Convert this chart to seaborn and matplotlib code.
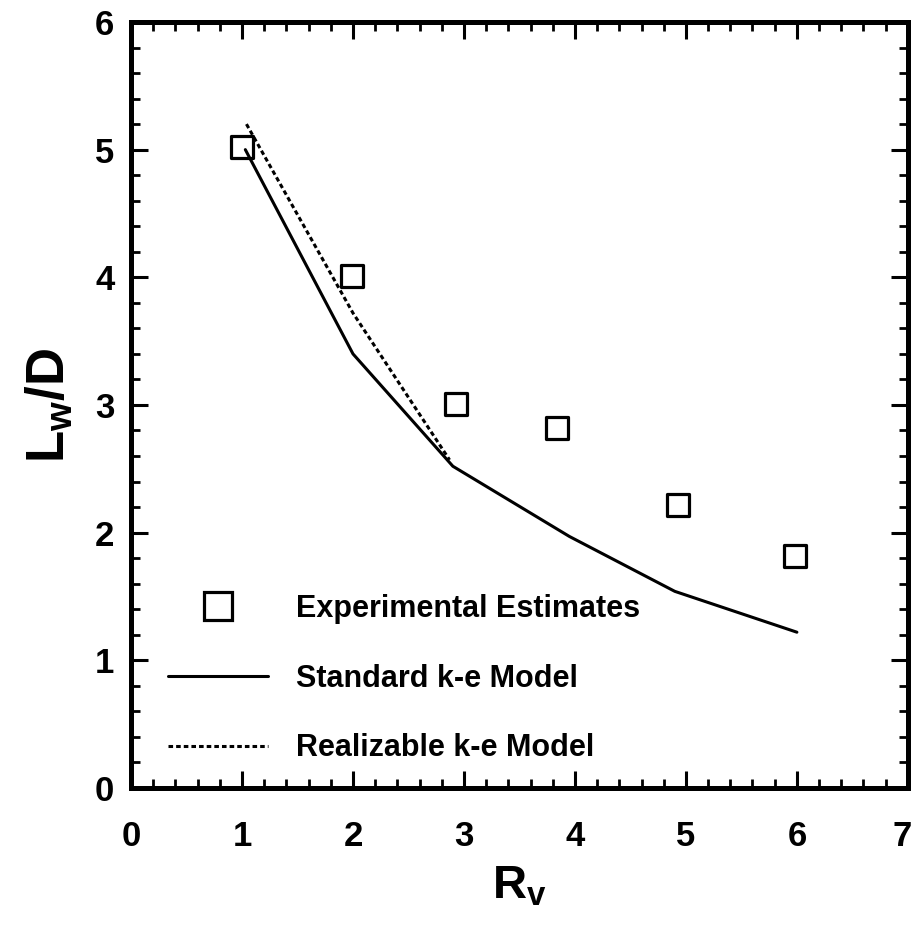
import matplotlib
matplotlib.use("Agg")
import matplotlib.pyplot as plt
import matplotlib.transforms as mtransforms
from matplotlib.lines import Line2D
from matplotlib.ticker import MultipleLocator
import seaborn as sns
import pandas as pd

# ---- data ----
exp_x = [1.00, 1.99, 2.93, 3.84, 4.93, 5.98]
exp_y = [5.02, 4.01, 3.01, 2.82, 2.22, 1.82]

std_x = [1.03, 2.00, 2.90, 3.95, 4.90, 6.00]
std_y = [5.00, 3.40, 2.52, 1.97, 1.54, 1.22]

real_x = [1.04, 2.00, 2.87]
real_y = [5.20, 3.72, 2.57]

legend_labels = ["Experimental Estimates", "Standard k-e Model", "Realizable k-e Model"]
x_ticks = [0, 1, 2, 3, 4, 5, 6, 7]
y_ticks = [0, 1, 2, 3, 4, 5, 6]

sns.set_theme(style="ticks")
plt.rcParams['font.family'] = ['Liberation Sans', 'DejaVu Sans']
plt.rcParams['font.weight'] = 'bold'
plt.rcParams['text.color'] = 'black'
plt.rcParams['axes.labelcolor'] = 'black'
plt.rcParams['xtick.color'] = 'black'
plt.rcParams['ytick.color'] = 'black'
plt.rcParams['mathtext.fontset'] = 'custom'
plt.rcParams['mathtext.rm'] = 'Liberation Sans:bold'
plt.rcParams['mathtext.bf'] = 'Liberation Sans:bold'
plt.rcParams['mathtext.it'] = 'Liberation Sans:bold'

fig = plt.figure(figsize=(9.15, 9.27), dpi=100)
ax = fig.add_axes([0.1432, 0.15, 0.849, 0.8263])

df_exp = pd.DataFrame({"x": exp_x, "y": exp_y})
df_std = pd.DataFrame({"x": std_x, "y": std_y})
df_real = pd.DataFrame({"x": real_x, "y": real_y})

sns.lineplot(data=df_std, x="x", y="y", ax=ax, color="black", lw=2.2,
             sort=False, estimator=None)
sns.lineplot(data=df_real, x="x", y="y", ax=ax, color="black", lw=2.2,
             sort=False, estimator=None, linestyle=(0, (1.5, 1.0)))
sns.scatterplot(data=df_exp, x="x", y="y", ax=ax, marker="s", s=250,
                facecolor="none", edgecolor="black", linewidth=2.3, zorder=5)

ax.set_xlim(0, 7)
ax.set_ylim(0, 6)
ax.set_xticks(x_ticks)
ax.set_yticks(y_ticks)
ax.set_xticklabels([str(t) for t in x_ticks])
ax.set_yticklabels([str(t) for t in y_ticks])
ax.xaxis.set_minor_locator(MultipleLocator(0.2))
ax.yaxis.set_minor_locator(MultipleLocator(0.2))
ax.tick_params(which="both", direction="in", top=True, right=True, color="black")
ax.tick_params(which="major", length=12, width=2.2, labelsize=25)
ax.tick_params(which="minor", length=6.5, width=2.0)
ax.tick_params(axis="x", which="major", pad=23)
ax.tick_params(axis="y", which="major", pad=12)
for lab in ax.get_xticklabels() + ax.get_yticklabels():
    lab.set_fontweight("bold")
# keep the last x tick label inside the canvas
last = ax.get_xticklabels()[-1]
last.set_transform(last.get_transform() +
                   mtransforms.ScaledTranslation(-6 / 100, 0, fig.dpi_scale_trans))
for sp in ax.spines.values():
    sp.set_linewidth(3.6)
    sp.set_color("black")

ax.set_xlabel(r"$\mathbf{R_v}$", fontsize=34, labelpad=8)
ax.set_ylabel(r"$\mathbf{L_w/D}$", fontsize=38, labelpad=14)

handles = [
    Line2D([], [], marker="s", linestyle="none", markersize=20, markerfacecolor="none",
           markeredgecolor="black", markeredgewidth=2.3),
    Line2D([], [], color="black", lw=2.2),
    Line2D([], [], color="black", lw=2.2, linestyle=(0, (1.5, 1.0))),
]
leg = ax.legend(handles, legend_labels, loc="lower left", bbox_to_anchor=(0.047, 0.032),
                frameon=False, fontsize=22, handlelength=3.3, handletextpad=0.9,
                labelspacing=1.3, borderpad=0, borderaxespad=0)
for t in leg.get_texts():
    t.set_fontweight("bold")

fig.savefig("out.png", dpi=100)
